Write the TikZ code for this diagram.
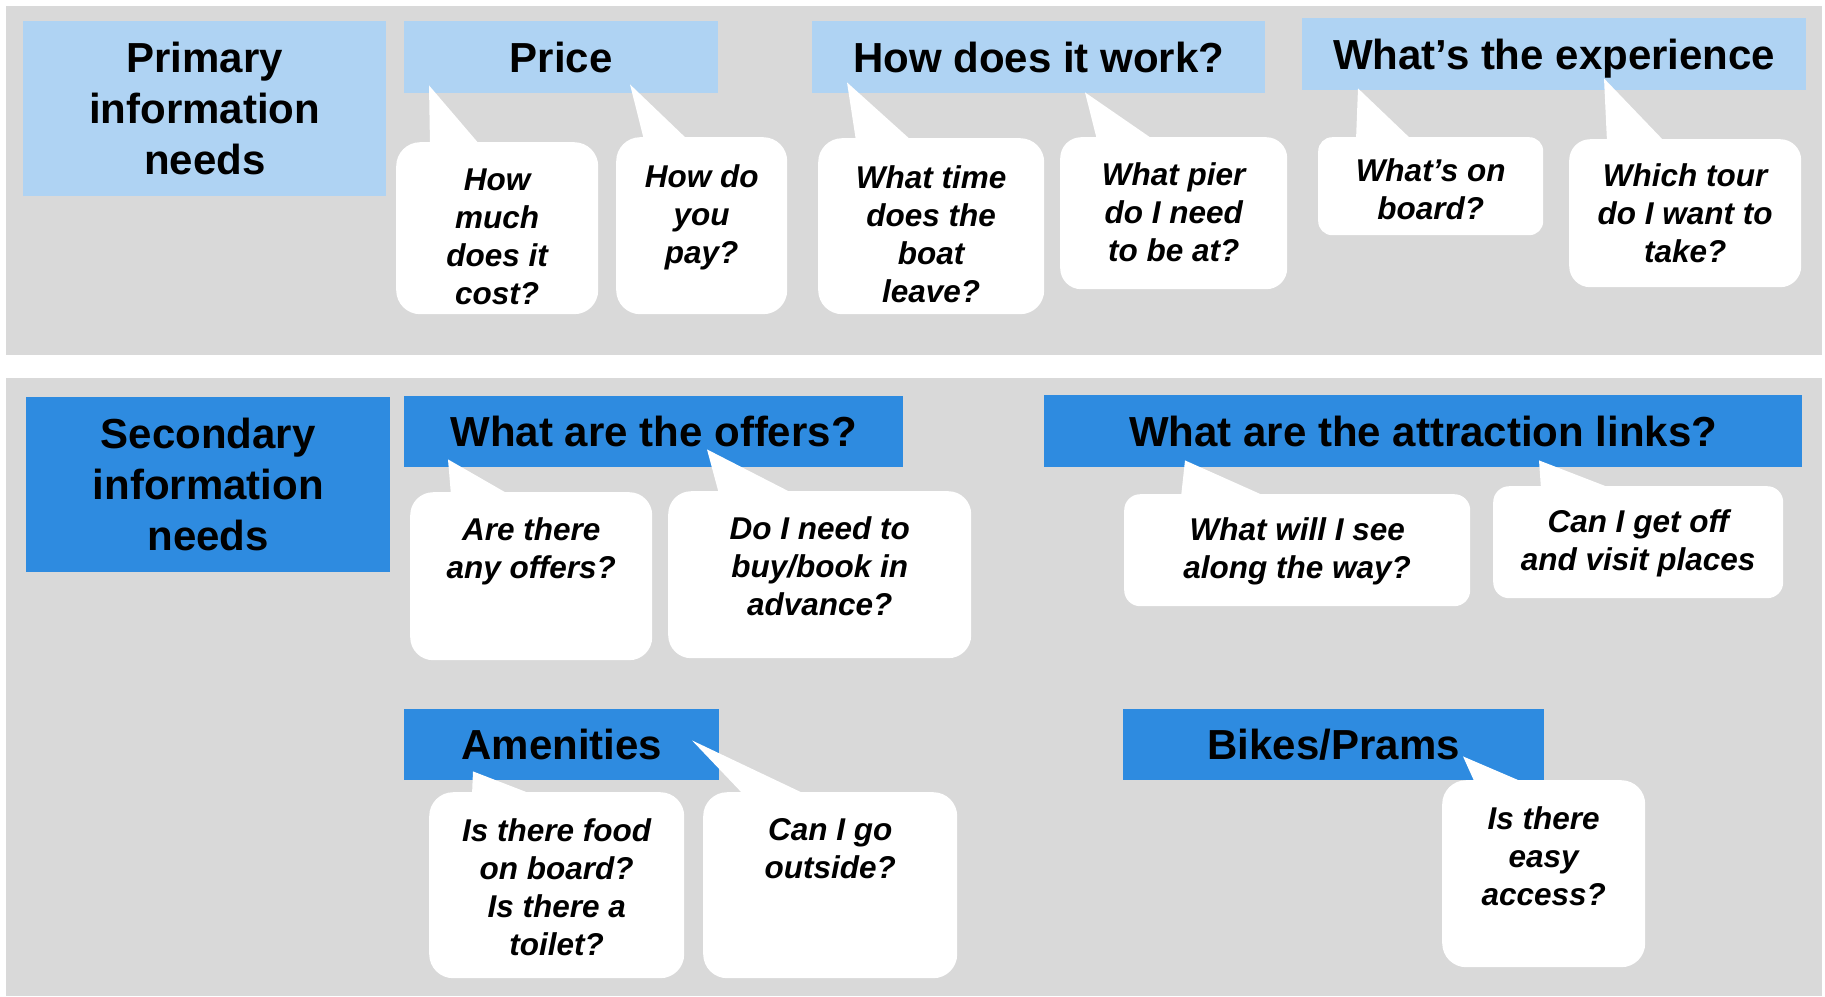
\documentclass[tikz,border=0pt]{standalone}
\usepackage{fontspec}
\setmainfont{Liberation Sans}
\definecolor{panelgray}{HTML}{D9D9D9}
\definecolor{paleblue}{HTML}{AFD3F3}
\definecolor{deepblue}{HTML}{2E8BE0}

\begin{document}
\begin{tikzpicture}[
    x=1pt,y=-1pt,
    box/.style={anchor=north west,inner sep=0pt,font=\fontsize{42}{51}\selectfont\bfseries},
    head/.style={box,text height=30pt,text depth=0pt},
    needs/.style={box,align=center},
    bubble/.style={anchor=north west,fill=white,inner sep=0pt},
    ask/.style={anchor=north,inner sep=0pt,align=center,font=\fontsize{31.5}{38}\selectfont\bfseries\itshape},
    tail/.style={fill=white}
    ]
    \useasboundingbox (0,0) rectangle (1825,996);
    \fill[panelgray] (6,6) rectangle (1822,355);
    \fill[panelgray] (6,378) rectangle (1822,996);

    % primary needs
    \node[needs,fill=paleblue,minimum width=363pt,minimum height=175pt] (primary) at (23,21) {Primary\\information\\needs};
    \node[head,fill=paleblue,minimum width=314pt,minimum height=72pt] (price) at (404,21) {Price};
    \node[head,fill=paleblue,minimum width=453pt,minimum height=72pt] (work) at (812,21) {How does it work?};
    \node[head,fill=paleblue,minimum width=504pt,minimum height=72pt] (exper) at (1302,18) {What’s the experience};

    \node[bubble,minimum width=202pt,minimum height=172pt,rounded corners=24pt] (cost) at (396,142) {};
    \fill[tail] ([xshift=25pt,yshift=8pt]price.south west) -- ([xshift=34pt,yshift=-3pt]cost.north west) -- ([xshift=84pt,yshift=-3pt]cost.north west) -- cycle;
    \node[ask] (qcost) at ([yshift=-27pt]cost.north) {How\\much\\does it\\cost?};

    \node[bubble,minimum width=171pt,minimum height=177pt,rounded corners=24pt] (pay) at (616,137) {};
    \fill[tail] ([xshift=226pt,yshift=9pt]price.south west) -- ([xshift=28pt,yshift=-3pt]pay.north west) -- ([xshift=72pt,yshift=-3pt]pay.north west) -- cycle;
    \node[ask] (qpay) at ([yshift=-27pt]pay.north) {How do\\you\\pay?};

    \node[bubble,minimum width=226pt,minimum height=176pt,rounded corners=24pt] (leave) at (818,138) {};
    \fill[tail] ([xshift=35pt,yshift=11pt]work.south west) -- ([xshift=38pt,yshift=-3pt]leave.north west) -- ([xshift=94pt,yshift=-3pt]leave.north west) -- cycle;
    \node[ask] (qleave) at ([yshift=-27pt]leave.north) {What time\\does the\\boat\\leave?};

    \node[bubble,minimum width=227pt,minimum height=152pt,rounded corners=21pt] (pier) at (1060,137) {};
    \fill[tail] ([xshift=273pt,yshift=1pt]work.south west) -- ([xshift=37pt,yshift=-3pt]pier.north west) -- ([xshift=94pt,yshift=-3pt]pier.north west) -- cycle;
    \node[ask] (qpier) at ([yshift=-25pt]pier.north) {What pier\\do I need\\to be at?};

    \node[bubble,minimum width=225pt,minimum height=98pt,rounded corners=14pt] (board) at (1318,137) {};
    \fill[tail] ([xshift=56pt,yshift=2pt]exper.south west) -- ([xshift=38pt,yshift=-3pt]board.north west) -- ([xshift=94pt,yshift=-3pt]board.north west) -- cycle;
    \node[ask] (qboard) at ([yshift=-21pt]board.north) {What’s on\\board?};

    \node[bubble,minimum width=232pt,minimum height=148pt,rounded corners=21pt] (tour) at (1569,139) {};
    \fill[tail] ([xshift=302pt,yshift=12pt]exper.south west) -- ([xshift=38pt,yshift=-3pt]tour.north west) -- ([xshift=96pt,yshift=-3pt]tour.north west) -- cycle;
    \node[ask] (qtour) at ([yshift=-24pt]tour.north) {Which tour\\do I want to\\take?};

    % secondary needs
    \node[needs,fill=deepblue,minimum width=364pt,minimum height=175pt] (secondary) at (26,397) {Secondary\\information\\needs};
    \node[head,fill=deepblue,minimum width=499pt,minimum height=71pt] (offers) at (404,396) {What are the offers?};
    \node[head,fill=deepblue,minimum width=758pt,minimum height=72pt] (links) at (1044,395) {What are the attraction links?};
    \node[head,fill=deepblue,minimum width=315pt,minimum height=71pt] (amen) at (404,709) {Amenities};
    \node[head,fill=deepblue,minimum width=421pt,minimum height=71pt] (bikes) at (1123,709) {Bikes/Prams};

    \node[bubble,minimum width=242pt,minimum height=168pt,rounded corners=23pt] (anyoff) at (410,492) {};
    \fill[tail] ([xshift=44pt,yshift=8pt]offers.south west) -- ([xshift=41pt,yshift=-3pt]anyoff.north west) -- ([xshift=100pt,yshift=-3pt]anyoff.north west) -- cycle;
    \node[ask] (qanyoff) at ([yshift=-25.5pt]anyoff.north) {Are there\\any offers?};

    \node[bubble,minimum width=303pt,minimum height=167pt,rounded corners=23pt] (advance) at (668,491) {};
    \fill[tail] ([xshift=303pt,yshift=18pt]offers.south west) -- ([xshift=51pt,yshift=-3pt]advance.north west) -- ([xshift=126pt,yshift=-3pt]advance.north west) -- cycle;
    \node[ask] (qadvance) at ([yshift=-25pt]advance.north) {Do I need to\\buy/book in\\advance?};

    \node[bubble,minimum width=346pt,minimum height=112pt,rounded corners=16pt] (see) at (1124,494) {};
    \fill[tail] ([xshift=141pt,yshift=7pt]links.south west) -- ([xshift=57pt,yshift=-3pt]see.north west) -- ([xshift=143pt,yshift=-3pt]see.north west) -- cycle;
    \node[ask] (qsee) at ([yshift=-23.5pt]see.north) {What will I see\\along the way?};

    \node[bubble,minimum width=290pt,minimum height=112pt,rounded corners=16pt] (visit) at (1493,486) {};
    \fill[tail] ([xshift=495pt,yshift=7pt]links.south west) -- ([xshift=48pt,yshift=-3pt]visit.north west) -- ([xshift=120pt,yshift=-3pt]visit.north west) -- cycle;
    \node[ask] (qvisit) at ([yshift=-23.5pt]visit.north) {Can I get off\\and visit places};

    \node[bubble,minimum width=255pt,minimum height=186pt,rounded corners=24pt] (food) at (429,792) {};
    \fill[tail] ([xshift=69pt,yshift=9pt]amen.south west) -- ([xshift=43pt,yshift=-3pt]food.north west) -- ([xshift=105pt,yshift=-3pt]food.north west) -- cycle;
    \node[ask] (qfood) at ([yshift=-26.5pt]food.north) {Is there food\\on board?\\Is there a\\toilet?};

    \node[bubble,minimum width=254pt,minimum height=186pt,rounded corners=24pt] (outside) at (703,792) {};
    \fill[tail] ([xshift=288pt,yshift=40pt]amen.south west) -- ([xshift=41pt,yshift=-3pt]outside.north west) -- ([xshift=104pt,yshift=-3pt]outside.north west) -- cycle;
    \node[ask] (qoutside) at ([yshift=-26.5pt]outside.north) {Can I go\\outside?};

    \node[bubble,minimum width=203pt,minimum height=187pt,rounded corners=24pt] (access) at (1442,780) {};
    \fill[tail] ([xshift=340pt,yshift=24pt]bikes.south west) -- ([xshift=33pt,yshift=-3pt]access.north west) -- ([xshift=83pt,yshift=-3pt]access.north west) -- cycle;
    \node[ask] (qaccess) at ([yshift=-26.5pt]access.north) {Is there\\easy\\access?};
\end{tikzpicture}
\end{document}
